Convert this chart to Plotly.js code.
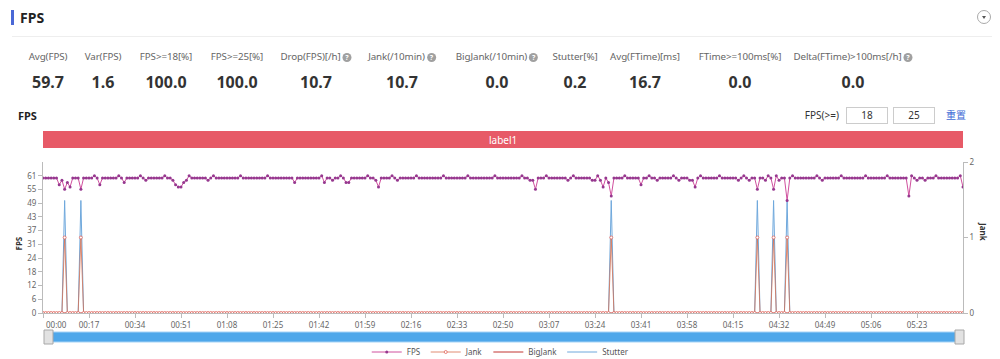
<!DOCTYPE html>
<html><head><meta charset="utf-8">
<script src="https://cdn.plot.ly/plotly-3.0.1.min.js"></script>
<style>
html,body{margin:0;padding:0;background:#fff;width:1000px;height:359px;overflow:hidden;font-family:"Noto Sans","Noto Sans CJK SC",sans-serif;}
#chart{position:absolute;left:0;top:0;width:1000px;height:359px;}
.abs{position:absolute;white-space:nowrap;}
.mlabel{font-size:9.8px;color:#666;transform:translateX(-50%);top:50px;line-height:14px;letter-spacing:-0.1px;}
.mvalue{font-size:16px;font-weight:bold;color:#333;transform:translateX(-50%);top:72px;line-height:20px;}
.help{display:inline-block;width:9px;height:9px;border-radius:50%;background:#a0a0a0;color:#fff;font-size:7px;line-height:9px;text-align:center;margin-left:2px;font-weight:bold;vertical-align:0px;letter-spacing:0;}
.inp{position:absolute;top:107px;width:40px;height:15px;border:1px solid #ccc;font-size:10px;line-height:15px;text-align:center;color:#333;box-sizing:content-box;}
</style></head>
<body>
<div id="chart"></div>
<div id="overlay"></div>
<script>
// ---------- data ----------
const metricLabels = ['Avg(FPS)','Var(FPS)','FPS>=18[%]','FPS>=25[%]','Drop(FPS)[/h]','Jank(/10min)','BigJank(/10min)','Stutter[%]','Avg(FTime)[ms]','FTime>=100ms[%]','Delta(FTime)>100ms[/h]'];
const metricValues = ['59.7','1.6','100.0','100.0','10.7','10.7','0.0','0.2','16.7','0.0','0.0'];
const metricHelp = [false,false,false,false,true,true,true,false,false,false,true];

const times = [
0,1,2,3,4,5,6,7,8,9,10,11,12,13,14,15,16,17,18,19,
20,21,22,23,24,25,26,27,28,29,30,31,32,33,34,35,36,37,38,39,
40,41,42,43,44,45,46,47,48,49,50,51,52,53,54,55,56,57,58,59,
60,61,62,63,64,65,66,67,68,69,70,71,72,73,74,75,76,77,78,79,
80,81,82,83,84,85,86,87,88,89,90,91,92,93,94,95,96,97,98,99,
100,101,102,103,104,105,106,107,108,109,110,111,112,113,114,115,116,117,118,119,
120,121,122,123,124,125,126,127,128,129,130,131,132,133,134,135,136,137,138,139,
140,141,142,143,144,145,146,147,148,149,150,151,152,153,154,155,156,157,158,159,
160,161,162,163,164,165,166,167,168,169,170,171,172,173,174,175,176,177,178,179,
180,181,182,183,184,185,186,187,188,189,190,191,192,193,194,195,196,197,198,199,
200,201,202,203,204,205,206,207,208,209,210,211,212,213,214,215,216,217,218,219,
220,221,222,223,224,225,226,227,228,229,230,231,232,233,234,235,236,237,238,239,
240,241,242,243,244,245,246,247,248,249,250,251,252,253,254,255,256,257,258,259,
260,261,262,263,264,265,266,267,268,269,270,271,272,273,274,275,276,277,278,279,
280,281,282,283,284,285,286,287,288,289,290,291,292,293,294,295,296,297,298,299,
300,301,302,303,304,305,306,307,308,309,310,311,312,313,314,315,316,317,318,319,
320,321,322,323,324,325,326,327,328,329,330,331,332,333,334,335,336,337,338,339,
340];

const fps = [
60,60,60,60,60,60,57,59,55,58,56,60,60,60,55,60,60,60,60,61,
60,57,60,60,60,60,60,60,61,60,58,60,60,60,60,60,61,60,59,60,
60,60,60,60,60,61,60,60,59,57,56,56,58,59,61,60,60,60,60,60,
60,59,60,61,60,60,60,60,60,60,60,60,60,61,60,60,60,60,60,60,
60,60,60,61,60,60,60,60,60,60,60,60,60,58,60,60,60,60,60,60,
60,60,60,61,58,60,60,59,60,60,61,60,58,58,60,60,60,60,60,60,
61,60,60,59,56,60,60,60,60,61,60,59,60,60,60,60,60,60,61,60,
60,60,60,60,60,60,60,60,61,60,60,60,60,60,60,60,60,61,60,60,
60,60,60,60,60,60,60,61,60,60,60,60,60,60,60,60,60,61,60,60,
59,59,55,60,60,60,61,60,60,60,60,60,60,60,59,60,61,60,60,60,
60,60,60,59,59,61,59,56,60,58,52,60,60,60,60,61,60,60,60,60,
60,57,60,60,61,60,60,59,60,60,60,60,60,61,60,59,60,60,60,59,
59,56,60,61,60,60,60,60,60,60,61,60,60,60,60,60,60,59,60,61,
60,59,60,60,55,60,60,59,61,60,55,61,59,60,60,50,60,61,60,60,
60,60,60,60,60,60,61,60,59,60,60,60,60,60,60,61,60,60,60,60,
60,60,60,60,61,60,60,60,60,60,60,60,61,60,60,60,60,60,60,60,
52,61,60,59,60,60,59,60,60,60,61,60,60,60,60,60,60,60,60,61,
56];

const jank = [
0,0,0,0,0,0,0,0,1,0,0,0,0,0,1,0,0,0,0,0,
0,0,0,0,0,0,0,0,0,0,0,0,0,0,0,0,0,0,0,0,
0,0,0,0,0,0,0,0,0,0,0,0,0,0,0,0,0,0,0,0,
0,0,0,0,0,0,0,0,0,0,0,0,0,0,0,0,0,0,0,0,
0,0,0,0,0,0,0,0,0,0,0,0,0,0,0,0,0,0,0,0,
0,0,0,0,0,0,0,0,0,0,0,0,0,0,0,0,0,0,0,0,
0,0,0,0,0,0,0,0,0,0,0,0,0,0,0,0,0,0,0,0,
0,0,0,0,0,0,0,0,0,0,0,0,0,0,0,0,0,0,0,0,
0,0,0,0,0,0,0,0,0,0,0,0,0,0,0,0,0,0,0,0,
0,0,0,0,0,0,0,0,0,0,0,0,0,0,0,0,0,0,0,0,
0,0,0,0,0,0,0,0,0,0,1,0,0,0,0,0,0,0,0,0,
0,0,0,0,0,0,0,0,0,0,0,0,0,0,0,0,0,0,0,0,
0,0,0,0,0,0,0,0,0,0,0,0,0,0,0,0,0,0,0,0,
0,0,0,0,1,0,0,0,0,0,1,0,0,0,0,1,0,0,0,0,
0,0,0,0,0,0,0,0,0,0,0,0,0,0,0,0,0,0,0,0,
0,0,0,0,0,0,0,0,0,0,0,0,0,0,0,0,0,0,0,0,
0,0,0,0,0,0,0,0,0,0,0,0,0,0,0,0,0,0,0,0,
0];

const bigJank = [
0,0,0,0,0,0,0,0,0,0,0,0,0,0,0,0,0,0,0,0,
0,0,0,0,0,0,0,0,0,0,0,0,0,0,0,0,0,0,0,0,
0,0,0,0,0,0,0,0,0,0,0,0,0,0,0,0,0,0,0,0,
0,0,0,0,0,0,0,0,0,0,0,0,0,0,0,0,0,0,0,0,
0,0,0,0,0,0,0,0,0,0,0,0,0,0,0,0,0,0,0,0,
0,0,0,0,0,0,0,0,0,0,0,0,0,0,0,0,0,0,0,0,
0,0,0,0,0,0,0,0,0,0,0,0,0,0,0,0,0,0,0,0,
0,0,0,0,0,0,0,0,0,0,0,0,0,0,0,0,0,0,0,0,
0,0,0,0,0,0,0,0,0,0,0,0,0,0,0,0,0,0,0,0,
0,0,0,0,0,0,0,0,0,0,0,0,0,0,0,0,0,0,0,0,
0,0,0,0,0,0,0,0,0,0,0,0,0,0,0,0,0,0,0,0,
0,0,0,0,0,0,0,0,0,0,0,0,0,0,0,0,0,0,0,0,
0,0,0,0,0,0,0,0,0,0,0,0,0,0,0,0,0,0,0,0,
0,0,0,0,0,0,0,0,0,0,0,0,0,0,0,0,0,0,0,0,
0,0,0,0,0,0,0,0,0,0,0,0,0,0,0,0,0,0,0,0,
0,0,0,0,0,0,0,0,0,0,0,0,0,0,0,0,0,0,0,0,
0,0,0,0,0,0,0,0,0,0,0,0,0,0,0,0,0,0,0,0,
0];

const stutter = [
0,0,0,0,0,0,0,0,50,0,0,0,0,0,50,0,0,0,0,0,
0,0,0,0,0,0,0,0,0,0,0,0,0,0,0,0,0,0,0,0,
0,0,0,0,0,0,0,0,0,0,0,0,0,0,0,0,0,0,0,0,
0,0,0,0,0,0,0,0,0,0,0,0,0,0,0,0,0,0,0,0,
0,0,0,0,0,0,0,0,0,0,0,0,0,0,0,0,0,0,0,0,
0,0,0,0,0,0,0,0,0,0,0,0,0,0,0,0,0,0,0,0,
0,0,0,0,0,0,0,0,0,0,0,0,0,0,0,0,0,0,0,0,
0,0,0,0,0,0,0,0,0,0,0,0,0,0,0,0,0,0,0,0,
0,0,0,0,0,0,0,0,0,0,0,0,0,0,0,0,0,0,0,0,
0,0,0,0,0,0,0,0,0,0,0,0,0,0,0,0,0,0,0,0,
0,0,0,0,0,0,0,0,0,0,50,0,0,0,0,0,0,0,0,0,
0,0,0,0,0,0,0,0,0,0,0,0,0,0,0,0,0,0,0,0,
0,0,0,0,0,0,0,0,0,0,0,0,0,0,0,0,0,0,0,0,
0,0,0,0,50,0,0,0,0,0,50,0,0,0,0,50,0,0,0,0,
0,0,0,0,0,0,0,0,0,0,0,0,0,0,0,0,0,0,0,0,
0,0,0,0,0,0,0,0,0,0,0,0,0,0,0,0,0,0,0,0,
0,0,0,0,0,0,0,0,0,0,0,0,0,0,0,0,0,0,0,0,
0];

const xTickSeconds = [0,17,34,51,68,85,102,119,136,153,170,187,204,221,238,255,272,289,306,323];
const xTickLabels = ['00:00','00:17','00:34','00:51','01:08','01:25','01:42','01:59','02:16','02:33','02:50','03:07','03:24','03:41','03:58','04:15','04:32','04:49','05:06','05:23'];
const yTickValues = [0,6.1,12.2,18.3,24.4,30.5,36.6,42.7,48.8,54.9,61];
const yTickLabels = ['0','6','12','18','24','31','37','43','49','55','61'];
const y2TickValues = [0,1,2];
const y2TickLabels = ['0','1','2'];
const segmentLabel = 'label1';
const thresholds = ['18','25'];

// ---------- layout helpers (pixel geometry) ----------
const PL = 43, PR = 963, PT = 162, PB = 313;
const px = v => (v - PL) / (PR - PL);
const py = v => (PB - v) / (PB - PT);

// ---------- HTML overlay (header, metrics, controls) ----------
const metricCenters = [48,103,166,237,316,402,497,575,645,740,853];
let html = '';
html += '<div class="abs" style="left:11px;top:10px;width:3px;height:15px;background:#4a68d6"></div>';
html += '<div class="abs" style="left:20px;top:8px;font-size:14px;font-weight:bold;color:#222;line-height:20px">FPS</div>';
html += '<div class="abs" style="left:977px;top:10px;width:14px;height:14px;border:1px solid #aaa;border-radius:50%;box-sizing:border-box"></div>';
html += '<div class="abs" style="left:981.5px;top:15.5px;width:0;height:0;border-left:2.5px solid transparent;border-right:2.5px solid transparent;border-top:3px solid #555"></div>';
html += '<div class="abs" style="left:12px;top:36px;width:980px;height:1px;background:#eee"></div>';
metricLabels.forEach((lab, i) => {
  html += '<div class="abs mlabel" style="left:' + metricCenters[i] + 'px">' + lab.replace(/>/g,'&gt;') + (metricHelp[i] ? '<span class="help">?</span>' : '') + '</div>';
  html += '<div class="abs mvalue" style="left:' + metricCenters[i] + 'px">' + metricValues[i] + '</div>';
});
html += '<div class="abs" style="left:18px;top:108px;font-size:11px;font-weight:bold;color:#222;line-height:16px">FPS</div>';
html += '<div class="abs" style="right:161px;top:108px;font-size:10px;color:#333;line-height:15px">FPS(&gt;=)</div>';
html += '<div class="inp" style="left:846px">' + thresholds[0] + '</div>';
html += '<div class="inp" style="left:893px">' + thresholds[1] + '</div>';
html += '<div class="abs" style="left:946px;top:107px;font-size:10px;color:#3d6ad6;line-height:16px;font-family:\'Noto Sans CJK SC\',sans-serif">重置</div>';
document.getElementById('overlay').innerHTML = html;

// ---------- chart ----------
const traces = [
  {name:'BigJank', x:times, y:bigJank, yaxis:'y2', type:'scatter', mode:'lines',
   line:{color:'#c23531', width:1}, legendrank:3, hoverinfo:'skip'},
  {name:'Stutter', x:times, y:stutter, yaxis:'y', type:'scatter', mode:'lines',
   line:{color:'#6fa8dc', width:1}, legendrank:4, hoverinfo:'skip'},
  {name:'Jank', x:times, y:jank, yaxis:'y2', type:'scatter', mode:'lines+markers',
   line:{color:'#d9704f', width:0.8}, marker:{size:3, color:'#ffffff', line:{color:'#e0645c', width:0.8}}, legendrank:2, hoverinfo:'skip'},
  {name:'FPS', x:times, y:fps, yaxis:'y', type:'scatter', mode:'lines+markers',
   line:{color:'#d0509e', width:1}, marker:{size:3, color:'#96388f'}, legendrank:1, hoverinfo:'skip'}
];

const axisFont = {family:'Noto Sans, sans-serif', size:8, color:'#666'};
const layout = {
  width:1000, height:359,
  margin:{l:PL, r:1000-PR, t:PT, b:359-PB, pad:0, autoexpand:false},
  paper_bgcolor:'#ffffff', plot_bgcolor:'#ffffff',
  font:{family:'Noto Sans, sans-serif', size:8, color:'#555'},
  showlegend:true,
  legend:{orientation:'h', x:0.497, xanchor:'center', y:py(352), yanchor:'middle',
          font:{size:8, color:'#555'}, itemwidth:30, bgcolor:'rgba(0,0,0,0)'},
  xaxis:{range:[0,340], tickmode:'array', tickvals:xTickSeconds,
         ticktext:xTickLabels.map((s,i)=> i===0 ? '' : s), automargin:false,
         showgrid:false, zeroline:false, showline:true, linecolor:'#bbb', linewidth:1,
         ticks:'outside', ticklen:4, tickcolor:'#bbb', tickfont:axisFont, fixedrange:true},
  yaxis:{range:[0,67.1], tickmode:'array', tickvals:yTickValues, ticktext:yTickLabels, automargin:false,
         showgrid:false, zeroline:false, showline:true, linecolor:'#bbb', linewidth:1,
         ticks:'outside', ticklen:4, tickcolor:'#bbb', tickfont:axisFont, fixedrange:true},
  yaxis2:{range:[0,2], overlaying:'y', side:'right', tickmode:'array', tickvals:y2TickValues, ticktext:y2TickLabels, automargin:false,
         showgrid:false, zeroline:false, showline:true, linecolor:'#bbb', linewidth:1,
         ticks:'outside', ticklen:4, tickcolor:'#bbb', tickfont:axisFont, fixedrange:true},
  shapes:[
    {type:'rect', xref:'paper', yref:'paper', x0:0, x1:1, y0:py(148), y1:py(131),
     fillcolor:'#e75a67', line:{width:0}, layer:'above'},
    {type:'rect', xref:'paper', yref:'paper', x0:px(47), x1:px(960), y0:py(342), y1:py(332),
     fillcolor:'#4ea7ea', line:{color:'#a6d3f6', width:1}},
    {type:'rect', xref:'paper', yref:'paper', x0:px(44), x1:px(53), y0:py(344), y1:py(330),
     fillcolor:'#e2e2e2', line:{color:'#a8a8a8', width:1}},
    {type:'rect', xref:'paper', yref:'paper', x0:px(955), x1:px(964), y0:py(344), y1:py(330),
     fillcolor:'#e2e2e2', line:{color:'#a8a8a8', width:1}}
  ],
  annotations:[
    {xref:'paper', yref:'paper', x:0.5, y:py(139.5), text:segmentLabel, showarrow:false,
     font:{size:10, color:'#ffffff'}, xanchor:'center', yanchor:'middle'},
    {xref:'paper', yref:'paper', x:px(17.5), y:py(244), text:'<b>FPS</b>', showarrow:false, textangle:-90,
     font:{size:8, color:'#333'}, xanchor:'center', yanchor:'middle'},
    {xref:'paper', yref:'paper', x:px(983), y:py(231), text:'<b>Jank</b>', showarrow:false, textangle:90,
     font:{size:8, color:'#333'}, xanchor:'center', yanchor:'middle'},
    {xref:'x', yref:'paper', x:0, y:py(317), text:xTickLabels[0], showarrow:false,
     font:axisFont, xanchor:'left', yanchor:'top', xshift:1}
  ]
};

Plotly.newPlot('chart', traces, layout, {displayModeBar:false, staticPlot:true});
</script>
</body></html>
